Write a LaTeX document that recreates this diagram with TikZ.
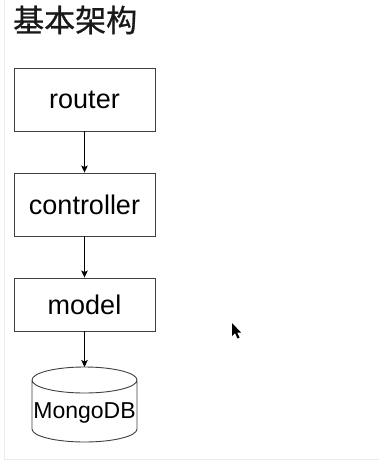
\documentclass[tikz,border=0pt]{standalone}
\usepackage{fontspec}
\setmainfont{Liberation Sans}
\newfontfamily\cjk[FakeBold=0.8]{Noto Sans CJK SC}
\usetikzlibrary{arrows.meta}
\begin{document}
\begin{tikzpicture}[x=1pt,y=-1pt,
  layer/.style={draw=black!75, line width=0.9pt, minimum width=141pt, minimum height=63pt, inner sep=0pt, font=\fontsize{27}{30}\selectfont},
  flow/.style={draw=black, line width=0.9pt, -{Stealth[length=7pt,width=6.5pt,inset=1.5pt]}},
  frameline/.style={draw=black!8, line width=1pt}]
  % canvas
  \fill[white] (0,0) rectangle (379,463);
  \useasboundingbox (0,0) rectangle (379,463);
  \draw[frameline] (4,0) -- (4,459) -- (379,459);

  % heading
  \node[anchor=west, inner sep=0pt, text=black!90, font=\cjk\fontsize{31}{35}\selectfont] (title) at (13,20) {基本架构};

  % layers
  \node[layer] (router) at (84.5,99.5) {router};
  \node[layer] (controller) at (84.5,204.5) {controller};
  \node[layer, minimum height=53pt] (model) at (84.5,304.5) {model};

  % database cylinder
  \coordinate (dbtop) at (84.5,367);
  \draw[draw=black!75, line width=0.9pt]
    (84.5,380) ellipse [x radius=52.5, y radius=13]
    (32,380) -- (32,429) arc [start angle=180, end angle=0, x radius=52.5, y radius=13] -- (137,380);
  \node[inner sep=0pt, font=\fontsize{23}{26}\selectfont] (db) at (84.5,413) {MongoDB};

  % connectors
  \draw[flow] (router) -- (controller);
  \draw[flow] (controller) -- (model);
  \draw[flow] (model) -- (dbtop);

  % pointer
  \fill[black] (232,323) -- (232,336) -- (235,333) -- (237.5,338.5) -- (239.5,337.5) -- (237,332.5) -- (241,332.5) -- cycle;
\end{tikzpicture}
\end{document}
